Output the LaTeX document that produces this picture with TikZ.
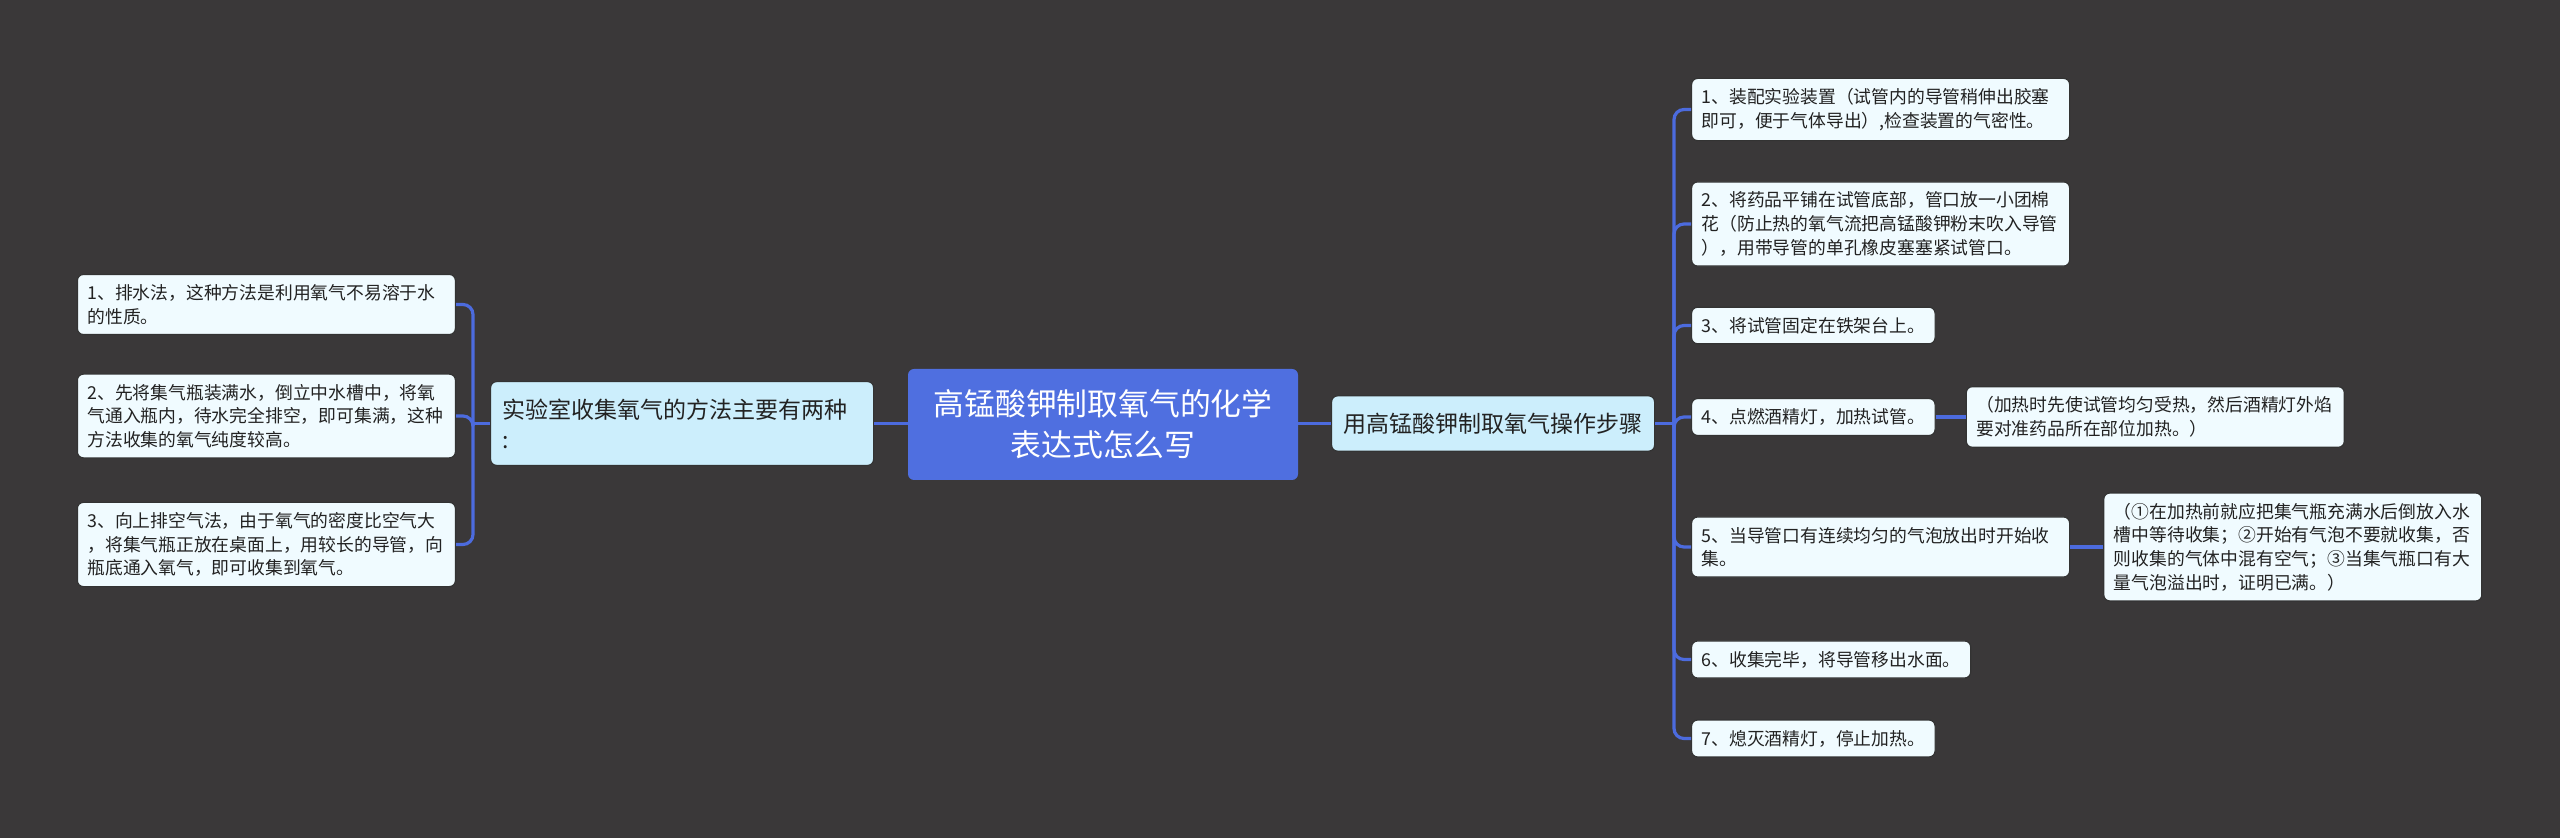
\documentclass[tikz,border=0pt]{standalone}
\usepackage{fontspec}
\setmainfont{Noto Sans CJK SC}
\usetikzlibrary{positioning}

\definecolor{bgc}{RGB}{58,56,57}
\definecolor{linkc}{RGB}{76,107,222}
\definecolor{rootc}{RGB}{79,111,224}
\definecolor{midc}{RGB}{204,238,252}
\definecolor{leafc}{RGB}{240,251,255}
\definecolor{textc}{RGB}{34,34,34}

\begin{document}
\begin{tikzpicture}[x=0.5pt, y=-0.5pt,
  rootbox/.style={fill=rootc, rounded corners=3pt, text=white, align=center,
    minimum width=195pt, minimum height=55.5pt, inner sep=0pt,
    font=\fontsize{15.4}{20.5}\selectfont},
  midbox/.style={draw=black!80, line width=0.6pt, fill=midc, rounded corners=3pt,
    text=textc, align=left, inner xsep=6pt, inner ysep=8.5pt,
    font=\fontsize{11.5}{15}\selectfont},
  leafbox/.style={draw=black!80, line width=0.6pt, fill=leafc, rounded corners=3pt,
    text=textc, align=left, inner xsep=5pt, inner ysep=5pt,
    font=\fontsize{8.9}{11.8}\selectfont},
  wideleaf/.style={leafbox, text width=179pt},
  link/.style={draw=linkc, line width=1.6pt},
  fork/.style={link, rounded corners=5pt}]

% background
\fill[bgc] (0,0) rectangle (2560,838);
\useasboundingbox (0,0) rectangle (2560,838);

% centre
\node[rootbox] (root) at (1103,424.5) {高锰酸钾制取氧气的化学\\表达式怎么写};

% left branch
\node[midbox, text width=179.5pt, anchor=west] (lmid) at (490,423.5) {实验室收集氧气的方法主要有两种\\:};
\node[wideleaf, anchor=east] (l1) at (456,304.5) {1、排水法，这种方法是利用氧气不易溶于水\\的性质。};
\node[wideleaf, anchor=east] (l2) at (456,416) {2、先将集气瓶装满水，倒立中水槽中，将氧\\气通入瓶内，待水完全排空，即可集满，这种\\方法收集的氧气纯度较高。};
\node[wideleaf, anchor=east] (l3) at (456,544.5) {3、向上排空气法，由于氧气的密度比空气大\\，将集气瓶正放在桌面上，用较长的导管，向\\瓶底通入氧气，即可收集到氧气。};

% right branch
\node[midbox, anchor=west] (rmid) at (1331,423.5) {用高锰酸钾制取氧气操作步骤};
\node[wideleaf, anchor=west] (r1) at (1691,109.5) {1、装配实验装置（试管内的导管稍伸出胶塞\\即可，便于气体导出）,检查装置的气密性。};
\node[wideleaf, anchor=west] (r2) at (1691,224) {2、将药品平铺在试管底部，管口放一小团棉\\花（防止热的氧气流把高锰酸钾粉末吹入导管\\），用带导管的单孔橡皮塞塞紧试管口。};
\node[leafbox, anchor=west] (r3) at (1691,325.5) {3、将试管固定在铁架台上。};
\node[leafbox, anchor=west] (r4) at (1691,417) {4、点燃酒精灯，加热试管。};
\node[wideleaf, anchor=west] (r5) at (1691,547) {5、当导管口有连续均匀的气泡放出时开始收\\集。};
\node[leafbox, anchor=west] (r6) at (1691,659.5) {6、收集完毕，将导管移出水面。};
\node[leafbox, anchor=west] (r7) at (1691,738.5) {7、熄灭酒精灯，停止加热。};

% notes
\node[wideleaf, right=15pt of r4] (s4) {（加热时先使试管均匀受热，然后酒精灯外焰\\要对准药品所在部位加热。）};
\node[wideleaf, right=16.5pt of r5] (s5) {（①在加热前就应把集气瓶充满水后倒放入水\\槽中等待收集；②开始有气泡不要就收集，否\\则收集的气体中混有空气；③当集气瓶口有大\\量气泡溢出时，证明已满。）};

% connectors
\coordinate (lfork) at (473,423.5);
\coordinate (rfork) at (1674,423.5);
\draw[link] (lmid.east) -- (lmid.east -| root.west);
\draw[link] (root.east |- rmid.west) -- (rmid.west);
\draw[link] (lmid.west) -- (lfork);
\draw[link] (rmid.east) -- (rfork);
\foreach \n in {l1,l2,l3}
  \draw[fork] (lfork) |- (\n.east);
\foreach \n in {r1,r2,r3,r4,r5,r6,r7}
  \draw[fork] (rfork) |- (\n.west);
\draw[link] (r4.east) -- (s4.west);
\draw[link] (r5.east) -- (s5.west);

\end{tikzpicture}
\end{document}
